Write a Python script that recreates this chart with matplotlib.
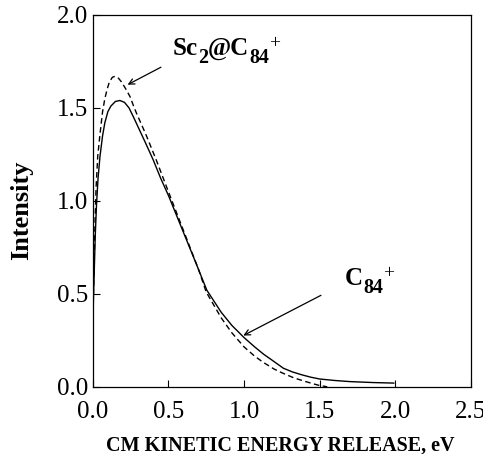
import matplotlib
matplotlib.use("Agg")
import matplotlib.pyplot as plt

# ---- data ----
c84_x = [0.0, 0.005, 0.01, 0.017, 0.025, 0.035, 0.048, 0.065, 0.08, 0.10, 0.12, 0.15, 0.18,
         0.21, 0.24, 0.27, 0.31, 0.35, 0.40, 0.45, 0.50, 0.56, 0.62, 0.68, 0.754, 0.85,
         0.92, 1.0, 1.07, 1.13, 1.20, 1.26, 1.32, 1.38, 1.44, 1.5, 1.6, 1.7, 1.85, 1.99]
c84_y = [0.30, 0.48, 0.62, 0.82, 0.98, 1.12, 1.24, 1.35, 1.42, 1.48, 1.51, 1.535, 1.54,
         1.53, 1.50, 1.45, 1.38, 1.31, 1.22, 1.12, 1.03, 0.91, 0.79, 0.67, 0.52, 0.40,
         0.33, 0.265, 0.215, 0.175, 0.135, 0.10, 0.08, 0.065, 0.052, 0.042, 0.034, 0.028, 0.023, 0.02]

sc2_x = [0.0, 0.005, 0.01, 0.015, 0.022, 0.033, 0.048, 0.065, 0.08, 0.095, 0.11, 0.13, 0.147,
         0.17, 0.19, 0.22, 0.247, 0.27, 0.29, 0.35, 0.42, 0.5, 0.6, 0.7, 0.75, 0.85,
         0.92, 1.0, 1.07, 1.13, 1.20, 1.26, 1.33, 1.4, 1.45, 1.49, 1.55]
sc2_y = [0.30, 0.52, 0.70, 0.88, 1.07, 1.24, 1.36, 1.48, 1.55, 1.60, 1.64, 1.665, 1.67,
         1.66, 1.64, 1.60, 1.56, 1.51, 1.47, 1.36, 1.22, 1.05, 0.84, 0.63, 0.51, 0.37,
         0.29, 0.215, 0.165, 0.13, 0.095, 0.072, 0.048, 0.03, 0.018, 0.009, 0.0]

x_ticks = [0.0, 0.5, 1.0, 1.5, 2.0, 2.5]
y_ticks = [0.0, 0.5, 1.0, 1.5, 2.0]

# formula labels: (text, kind) pieces
sc2_label = [('Sc', 'n'), ('2', 'sub'), ('@C', 'n'), ('84', 'sub'), ('+', 'sup')]
c84_label = [('C', 'n'), ('84', 'sub'), ('+', 'sup')]

plt.rcParams['font.family'] = ['Liberation Serif', 'DejaVu Serif']


def formula(ax, x, y, pieces, size=18):
    """chain text pieces so subscripts sit lower and keep a big size"""
    first = ax.text(x, y, pieces[0][0], fontsize=size, fontweight='bold', va='baseline')
    prev = first
    for txt, kind in pieces[1:]:
        if kind == 'sub':
            fs, fw, dx, dy = size * 0.8, 'bold', 0.0, -5.8
        elif kind == 'sup':
            fs, fw, dx, dy = size * 0.78, 'normal', 0.0, 5.5
        else:
            fs, fw, dx, dy = size, 'bold', 0.0, 0.0
        prev = ax.annotate(txt, xy=(1, 0), xycoords=(prev, first), xytext=(dx, dy),
                           textcoords='offset points', fontsize=fs, fontweight=fw,
                           va='bottom', ha='left')
    return first


fig = plt.figure(figsize=(4.83, 4.54), dpi=100)
ax = fig.add_axes([0.192, 0.148, 0.783, 0.819])

ax.plot(c84_x, c84_y, color='black', linewidth=1.0)
ax.plot(sc2_x, sc2_y, color='black', linewidth=1.0, linestyle=(0, (4, 2.5)))

ax.set_xlim(0, 2.5)
ax.set_ylim(0, 2.0)
ax.set_xticks(x_ticks)
ax.set_yticks(y_ticks)
ax.set_xticklabels([f"{t:.1f}" for t in x_ticks])
ax.set_yticklabels([f"{t:.1f}" for t in y_ticks])
ax.tick_params(direction='in', length=5, width=0.8, labelsize=18)
ax.tick_params(axis='x', pad=10)
ax.tick_params(axis='y', pad=3)
for s in ax.spines.values():
    s.set_linewidth(0.9)

ax.set_xlabel('CM KINETIC ENERGY RELEASE, eV', fontsize=14.5, fontweight='bold', va='top')
ax.xaxis.set_label_coords(0.495, -0.131)
ax.set_ylabel('Intensity', fontsize=19, fontweight='bold')
ax.yaxis.set_label_coords(-0.158, 0.475)

# annotations
ax.annotate('', xy=(0.214, 1.618), xytext=(0.467, 1.726),
            arrowprops=dict(arrowstyle='->', color='black', lw=0.9))
formula(ax, 0.531, 1.785, sc2_label)

ax.annotate('', xy=(0.979, 0.269), xytext=(1.525, 0.499),
            arrowprops=dict(arrowstyle='->', color='black', lw=0.9))
formula(ax, 1.669, 0.547, c84_label)

fig.savefig('out.png', dpi=100)
